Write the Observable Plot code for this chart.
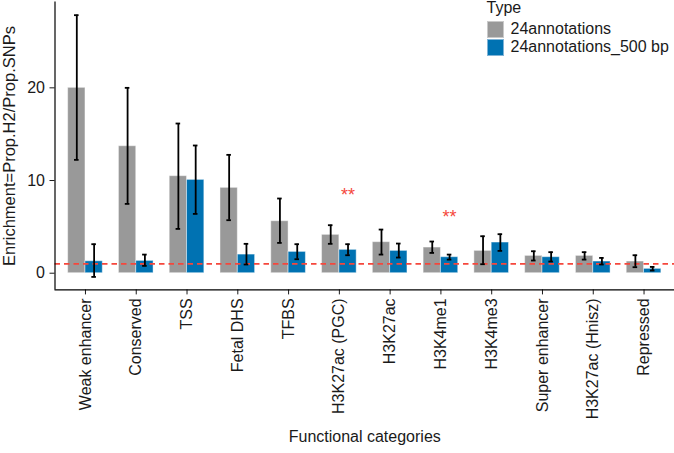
<!DOCTYPE html>
<html><head><meta charset="utf-8">
<script src="https://cdn.jsdelivr.net/npm/d3@7"></script>
<script src="https://cdn.jsdelivr.net/npm/@observablehq/plot@0.6"></script>
<style>
body{margin:0;background:#fff;font-family:"Liberation Sans",Arial,Helvetica,sans-serif;}
#wrap{position:relative;width:674px;height:453px;overflow:hidden;}
#legend{position:absolute;left:486.5px;top:0px;font-size:16px;color:#1a1a1a;}
#legend .title{line-height:16px;height:16px;margin-bottom:3.9px;}
#legend .row{display:flex;align-items:center;height:18.6px;line-height:18.6px;}
#legend .key{width:17px;height:17px;margin-right:7px;box-sizing:border-box;}
</style></head><body><div id="wrap"></div>
<script>
const categories = ["Weak enhancer","Conserved","TSS","Fetal DHS","TFBS","H3K27ac (PGC)","H3K27ac","H3K4me1","H3K4me3","Super enhancer","H3K27ac (Hnisz)","Repressed"];
const types = ["24annotations","24annotations_500 bp"];
const colors = ["#999999","#0072B2"];
const keyBorders = ["#c9c9c9","#7fb3d6"];
const enrichAll = [20.0,13.7,10.47,9.21,5.61,4.14,3.35,2.77,2.41,1.87,1.87,1.26];
const lowerAll  = [12.23,7.48,4.78,5.72,3.27,3.17,2.01,2.19,0.97,1.37,1.47,0.65];
const upperAll  = [27.84,20.0,16.15,12.77,8.06,5.18,4.71,3.42,3.99,2.37,2.27,1.94];
const enrich500 = [1.29,1.33,10.07,2.01,2.30,2.52,2.41,1.73,3.31,1.73,1.26,0.47];
const lower500  = [-0.40,0.79,6.40,0.94,1.51,1.94,1.69,1.47,2.41,1.26,0.94,0.29];
const upper500  = [3.13,2.01,13.78,3.17,3.13,3.13,3.20,2.01,4.21,2.27,1.65,0.68];
const starCategories = ["H3K27ac (PGC)","H3K4me1"];
const starLabels = ["**","**"];
const starY = [8.36,5.99];
const refLine = [1];
const yTicks = [0,10,20];
const yLabel = "Enrichment=Prop.H2/Prop.SNPs";
const xLabel = "Functional categories";

// layout constants (category units)
const barW = 0.341;      // width of each dodged bar
const capHalf = 0.045;   // half width of error-bar caps
const xDomain = [-0.6, categories.length - 0.4];
const yDomain = [-1.8, 29.25];

const rows = categories.flatMap((c,i)=>[
  {i, category:c, type:types[0], x1:i-barW, x2:i, xc:i-barW/2, value:enrichAll[i], lo:lowerAll[i], hi:upperAll[i]},
  {i, category:c, type:types[1], x1:i, x2:i+barW, xc:i+barW/2, value:enrich500[i], lo:lower500[i], hi:upper500[i]}
]);
const stars = starCategories.map((c,k)=>({x:categories.indexOf(c)+barW/2, y:starY[k], label:starLabels[k]}));

const red = "#F5473C";
const chart = Plot.plot({
  width: 674, height: 453,
  marginTop: 1.6, marginBottom: 163.6, marginLeft: 54.5, marginRight: 0,
  style: {fontFamily: '"Liberation Sans",Arial,Helvetica,sans-serif', fontSize: "16px", color: "#1a1a1a", background: "white", overflow: "visible"},
  x: {domain: xDomain},
  y: {domain: yDomain},
  color: {domain: types, range: colors},
  marks: [
    Plot.rectY(rows, {x1:"x1", x2:"x2", y1:0, y2:"value", fill:"type", stroke:"white", strokeOpacity:0.45, strokeWidth:1}),
    Plot.ruleY(refLine, {stroke:red, strokeWidth:1.7, strokeDasharray:"5.5,4"}),
    Plot.ruleX(rows, {x:"xc", y1:"lo", y2:"hi", stroke:"black", strokeWidth:1.8}),
    Plot.ruleY(rows, {y:"lo", x1:d=>d.xc-capHalf, x2:d=>d.xc+capHalf, stroke:"black", strokeWidth:1.8}),
    Plot.ruleY(rows, {y:"hi", x1:d=>d.xc-capHalf, x2:d=>d.xc+capHalf, stroke:"black", strokeWidth:1.8}),
    Plot.text(stars, {x:"x", y:"y", text:"label", fill:red, fontSize:18}),
    Plot.axisY({ticks:yTicks, tickSize:5, tickPadding:5, fontSize:16, label:null}),
    Plot.text([yLabel], {frameAnchor:"left", textAnchor:"middle", rotate:-90, dx:-45, fontSize:16.5, fill:"#1a1a1a"}),
    Plot.axisX({ticks:d3.range(categories.length), tickFormat:i=>categories[i], tickRotate:-90, tickSize:5, tickPadding:3.5, fontSize:16, label:xLabel, labelAnchor:"center", labelArrow:"none", labelOffset:152}),
    Plot.ruleX([xDomain[0]], {stroke:"black", strokeWidth:1.2}),
    Plot.ruleY([yDomain[0]], {stroke:"black", strokeWidth:1.2})
  ]
});
const wrap = document.getElementById("wrap");
wrap.appendChild(chart);
const leg = document.createElement("div");
leg.id = "legend";
leg.innerHTML = `<div class="title">Type</div>` + types.map((t,i)=>
  `<div class="row"><div class="key" style="background:${colors[i]};border:1px solid ${keyBorders[i]}"></div><span>${t}</span></div>`).join("");
wrap.appendChild(leg);
</script>
</body></html>
